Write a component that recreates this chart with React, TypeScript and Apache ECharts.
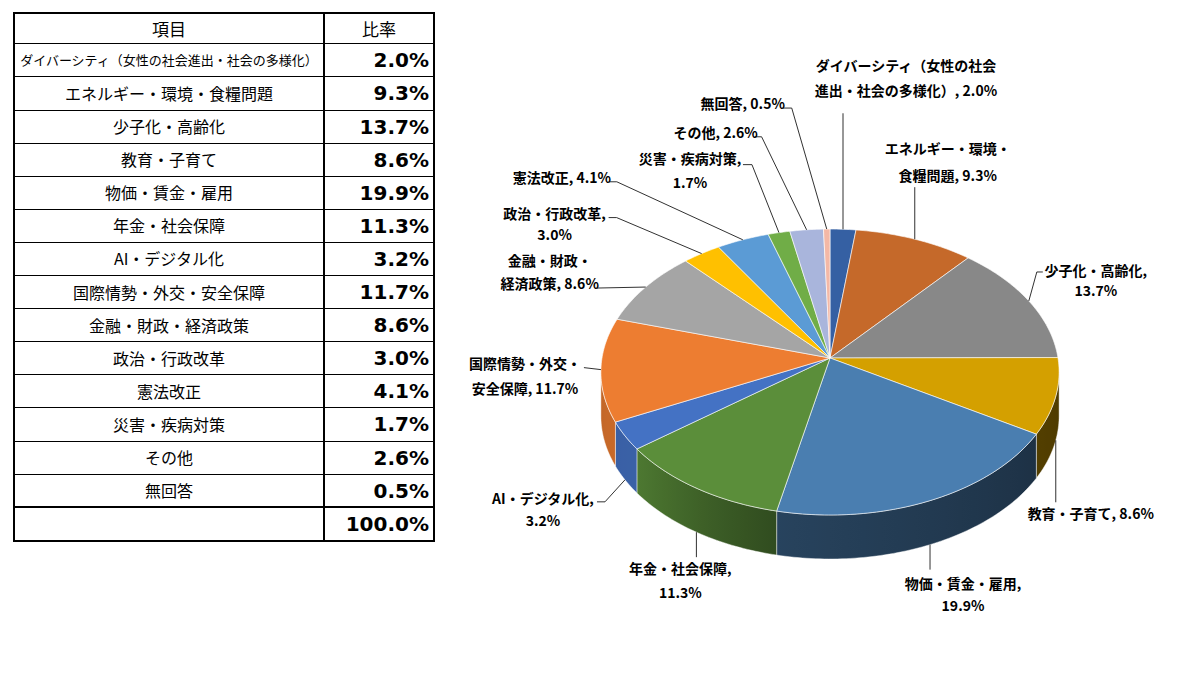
import React, { useEffect, useRef } from "react";
import * as echarts from "echarts";

// ---------- data ----------
const tableHeaders = ["項目", "比率"];
const categories = [
  "ダイバーシティ（女性の社会進出・社会の多様化）",
  "エネルギー・環境・食糧問題",
  "少子化・高齢化",
  "教育・子育て",
  "物価・賃金・雇用",
  "年金・社会保障",
  "AI・デジタル化",
  "国際情勢・外交・安全保障",
  "金融・財政・経済政策",
  "政治・行政改革",
  "憲法改正",
  "災害・疾病対策",
  "その他",
  "無回答",
];
const values = [2.0, 9.3, 13.7, 8.6, 19.9, 11.3, 3.2, 11.7, 8.6, 3.0, 4.1, 1.7, 2.6, 0.5];
const totalLabel = "100.0%";
// where each pie label wraps onto its second line (character index), null = single line
const labelBreaks = [13, 9, 8, null, 9, 8, 9, 8, 6, 8, null, 8, null, null];

// ---------- styles / layout ----------
const sliceColors = [
  "#3560A3", "#C5692A", "#888888", "#D4A000", "#4A7EB0", "#5B8E3A", "#4472C4",
  "#ED7D31", "#A5A5A5", "#FFC000", "#5B9BD5", "#70AD47", "#A9B5DC", "#F4B8A6",
];
const PIE = { cx: 830, cy: 358, A: 228, B: 141.6, t: 0.098, depth: 44 };
const shadeTable: [number, number][] = [
  [90, 0.36], [120, 0.39], [192, 0.53], [212, 0.69], [233, 0.85], [250, 0.84], [270, 0.8],
];
// label layout relative to the slice's anchor point on the pie edge
const labelLayout = [
  { dx: 63, dy: -164, gap: 25, leader: [[0, -116]] },
  { dx: 33, dy: -91, gap: 27, leader: [[0, -52]] },
  { dx: 67, dy: -31, gap: 20, leader: [[8, -29], [14, -29]] },
  { dx: 35, dy: 73, gap: 0, leader: [[0, 62]] },
  { dx: 33, dy: 38, gap: 22, leader: [[0, 25]] },
  { dx: -16, dy: 36, gap: 24, leader: [[0, 25]] },
  { dx: -82, dy: 18, gap: 22, leader: [[-20, 22], [-28, 22]] },
  { dx: -76, dy: -7, gap: 25, leader: [[-17, -2]] },
  { dx: -96, dy: -27, gap: 23, leader: [[-49, 1]] },
  { dx: -147, dy: -41, gap: 21, leader: [[-85, -36], [-93, -36]] },
  { dx: -181, dy: -63, gap: 0, leader: [[-126, -58], [-134, -58]] },
  { dx: -89, dy: -75, gap: 24, leader: [[-27, -68], [-36, -68]] },
  { dx: -91, dy: -98, gap: 0, leader: [[-45, -93], [-52, -93]] },
  { dx: -84, dy: -126, gap: 0, leader: [[-35, -121], [-44, -121]] },
];
const TABLE = { left: 14, right: 434, colX: 324, top: 13, headBottom: 43.3, rowH: 33.1, bottom: 541 };
const JP = '"Noto Sans CJK JP", "Noto Sans CJK SC", sans-serif';

// ---------- helpers ----------
const total = values.reduce((a, b) => a + b, 0);
const startAngles: number[] = [];
{
  let acc = 0;
  values.forEach((v) => {
    startAngles.push((acc / total) * 360);
    acc += v;
  });
}
const THETA_L = (Math.acos(-PIE.t) * 180) / Math.PI;
const THETA_R = 360 - THETA_L;

function proj(deg: number, dy = 0): number[] {
  const th = (deg * Math.PI) / 180;
  const s = Math.sin(th);
  const c = Math.cos(th);
  const d = 1 + PIE.t * c;
  return [PIE.cx + (PIE.A * s) / d, PIE.cy - (PIE.B * c) / d + dy];
}
function shadeFactor(deg: number): number {
  if (deg <= shadeTable[0][0]) return shadeTable[0][1];
  for (let k = 1; k < shadeTable.length; k++) {
    const [a0, f0] = shadeTable[k - 1];
    const [a1, f1] = shadeTable[k];
    if (deg <= a1) return f0 + ((f1 - f0) * (deg - a0)) / (a1 - a0);
  }
  return shadeTable[shadeTable.length - 1][1];
}
function shade(hex: string, f: number): string {
  const n = parseInt(hex.slice(1), 16);
  const r = Math.round(((n >> 16) & 255) * f);
  const g = Math.round(((n >> 8) & 255) * f);
  const b = Math.round((n & 255) * f);
  return `rgb(${r},${g},${b})`;
}

function renderItem(params: any, api: any) {
  const i = params.dataIndex;
  const v = api.value(1) as number;
  const a = startAngles[i];
  const b = a + (v / total) * 360;
  const color = sliceColors[i % sliceColors.length];
  const children: any[] = [];

  // top face
  const pts: number[][] = [[PIE.cx, PIE.cy]];
  const n = Math.max(2, Math.ceil(b - a));
  for (let k = 0; k <= n; k++) pts.push(proj(a + ((b - a) * k) / n));
  children.push({
    type: "polygon",
    z2: 2,
    shape: { points: pts },
    style: { fill: color, stroke: "rgba(255,255,255,0.75)", lineWidth: 0.8, lineJoin: "round" },
  });

  // visible side wall
  const wa = Math.max(a, THETA_L);
  const wb = Math.min(b, THETA_R);
  if (wb > wa) {
    const top: number[][] = [];
    const bot: number[][] = [];
    const m = Math.max(2, Math.ceil(wb - wa));
    for (let k = 0; k <= m; k++) {
      const th = wa + ((wb - wa) * k) / m;
      top.push(proj(th));
      bot.push(proj(th, PIE.depth));
    }
    const xs = top.map((p) => p[0]);
    const xmin = Math.min(...xs);
    const xmax = Math.max(...xs);
    const stops: { offset: number; color: string }[] = [];
    const steps = Math.max(2, Math.ceil((wb - wa) / 4));
    for (let k = 0; k <= steps; k++) {
      const th = wa + ((wb - wa) * k) / steps;
      const x = proj(th)[0];
      stops.push({ offset: xmax > xmin ? (x - xmin) / (xmax - xmin) : 0, color: shade(color, shadeFactor(th)) });
    }
    stops.sort((p, q) => p.offset - q.offset);
    children.push({
      type: "polygon",
      z2: 1,
      shape: { points: top.concat(bot.reverse()) },
      style: {
        fill: new echarts.graphic.LinearGradient(0, 0, 1, 0, stops),
        stroke: "rgba(255,255,255,0.55)",
        lineWidth: 0.8,
      },
    });
  }

  // label + leader
  const mid = (a + b) / 2;
  const onWall = Math.cos((mid * Math.PI) / 180) < -PIE.t;
  const anchor = proj(mid, onWall ? PIE.depth : 0);
  const lay = labelLayout[i];
  const linePts = [anchor].concat(lay.leader.map((d) => [anchor[0] + d[0], anchor[1] + d[1]]));
  children.push({
    type: "polyline",
    z2: 3,
    shape: { points: linePts },
    style: { stroke: "#1a1a1a", lineWidth: 0.9, fill: null },
  });
  const full = `${categories[i]}, ${v.toFixed(1)}%`;
  const br = labelBreaks[i];
  const lines = br == null ? [full] : [full.slice(0, br), full.slice(br).trim()];
  lines.forEach((txt, k) => {
    children.push({
      type: "text",
      z2: 4,
      style: {
        text: txt,
        x: anchor[0] + lay.dx,
        y: anchor[1] + lay.dy + k * lay.gap,
        align: "center",
        verticalAlign: "middle",
        fontFamily: JP,
        fontWeight: "bold",
        fontSize: 14,
        fill: "#000",
      },
    });
  });
  return { type: "group", children };
}

function buildTable(): any[] {
  const els: any[] = [];
  const T = TABLE;
  els.push({
    type: "rect",
    z: 1,
    shape: { x: T.left, y: T.top, width: T.right - T.left, height: T.bottom - T.top },
    style: { fill: "#fff", stroke: "#000", lineWidth: 2 },
  });
  els.push({
    type: "line",
    z: 2,
    shape: { x1: T.colX, y1: T.top, x2: T.colX, y2: T.bottom },
    style: { stroke: "#000", lineWidth: 2 },
  });
  const rowTop = (k: number) => T.headBottom + k * T.rowH;
  for (let k = 0; k <= categories.length; k++) {
    const y = rowTop(k);
    const thick = k === categories.length;
    const yy = thick ? Math.round(y) : Math.round(y) + 0.5;
    els.push({
      type: "line",
      z: 2,
      shape: { x1: T.left, y1: yy, x2: T.right, y2: yy },
      style: { stroke: "#000", lineWidth: thick ? 2 : 1 },
    });
  }
  const leftCx = (T.left + T.colX) / 2;
  const rightCx = (T.colX + T.right) / 2;
  const headY = (T.top + T.headBottom) / 2;
  [leftCx, rightCx].forEach((x, k) => {
    els.push({
      type: "text",
      z: 3,
      style: {
        text: tableHeaders[k], x, y: headY, align: "center", verticalAlign: "middle",
        fontFamily: JP, fontSize: 17, fill: "#000",
      },
    });
  });
  categories.forEach((c, k) => {
    const cy = rowTop(k) + T.rowH / 2;
    els.push({
      type: "text",
      z: 3,
      style: {
        text: c, x: leftCx, y: cy, align: "center", verticalAlign: "middle",
        fontFamily: JP, fontSize: c.length > 16 ? 13 : 16, fill: "#000",
      },
    });
    els.push({
      type: "text",
      z: 3,
      style: {
        text: `${values[k].toFixed(1)}%`, x: T.right - 5, y: cy + 0.5, align: "right", verticalAlign: "middle",
        fontFamily: '"DejaVu Sans", Verdana, sans-serif', fontWeight: "bold", fontSize: 20, fill: "#000",
      },
    });
  });
  els.push({
    type: "text",
    z: 3,
    style: {
      text: totalLabel, x: T.right - 5, y: (rowTop(categories.length) + T.bottom) / 2 + 0.5,
      align: "right", verticalAlign: "middle",
      fontFamily: '"DejaVu Sans", Verdana, sans-serif', fontWeight: "bold", fontSize: 20, fill: "#000",
    },
  });
  return els;
}

export default function App() {
  const ref = useRef<HTMLDivElement>(null);
  useEffect(() => {
    if (!ref.current) return;
    const chart = echarts.init(ref.current, null, { renderer: "svg" });
    chart.setOption({
      animation: false,
      backgroundColor: "#fff",
      graphic: { elements: buildTable() },
      series: [
        {
          type: "custom",
          coordinateSystem: "none",
          silent: true,
          data: values.map((v, i) => [i, v]),
          renderItem,
        },
      ],
    });
    return () => chart.dispose();
  }, []);
  return (
    <div
      ref={ref}
      style={{ position: "absolute", left: 0, top: 0, width: 1196, height: 673, background: "#fff" }}
    />
  );
}
